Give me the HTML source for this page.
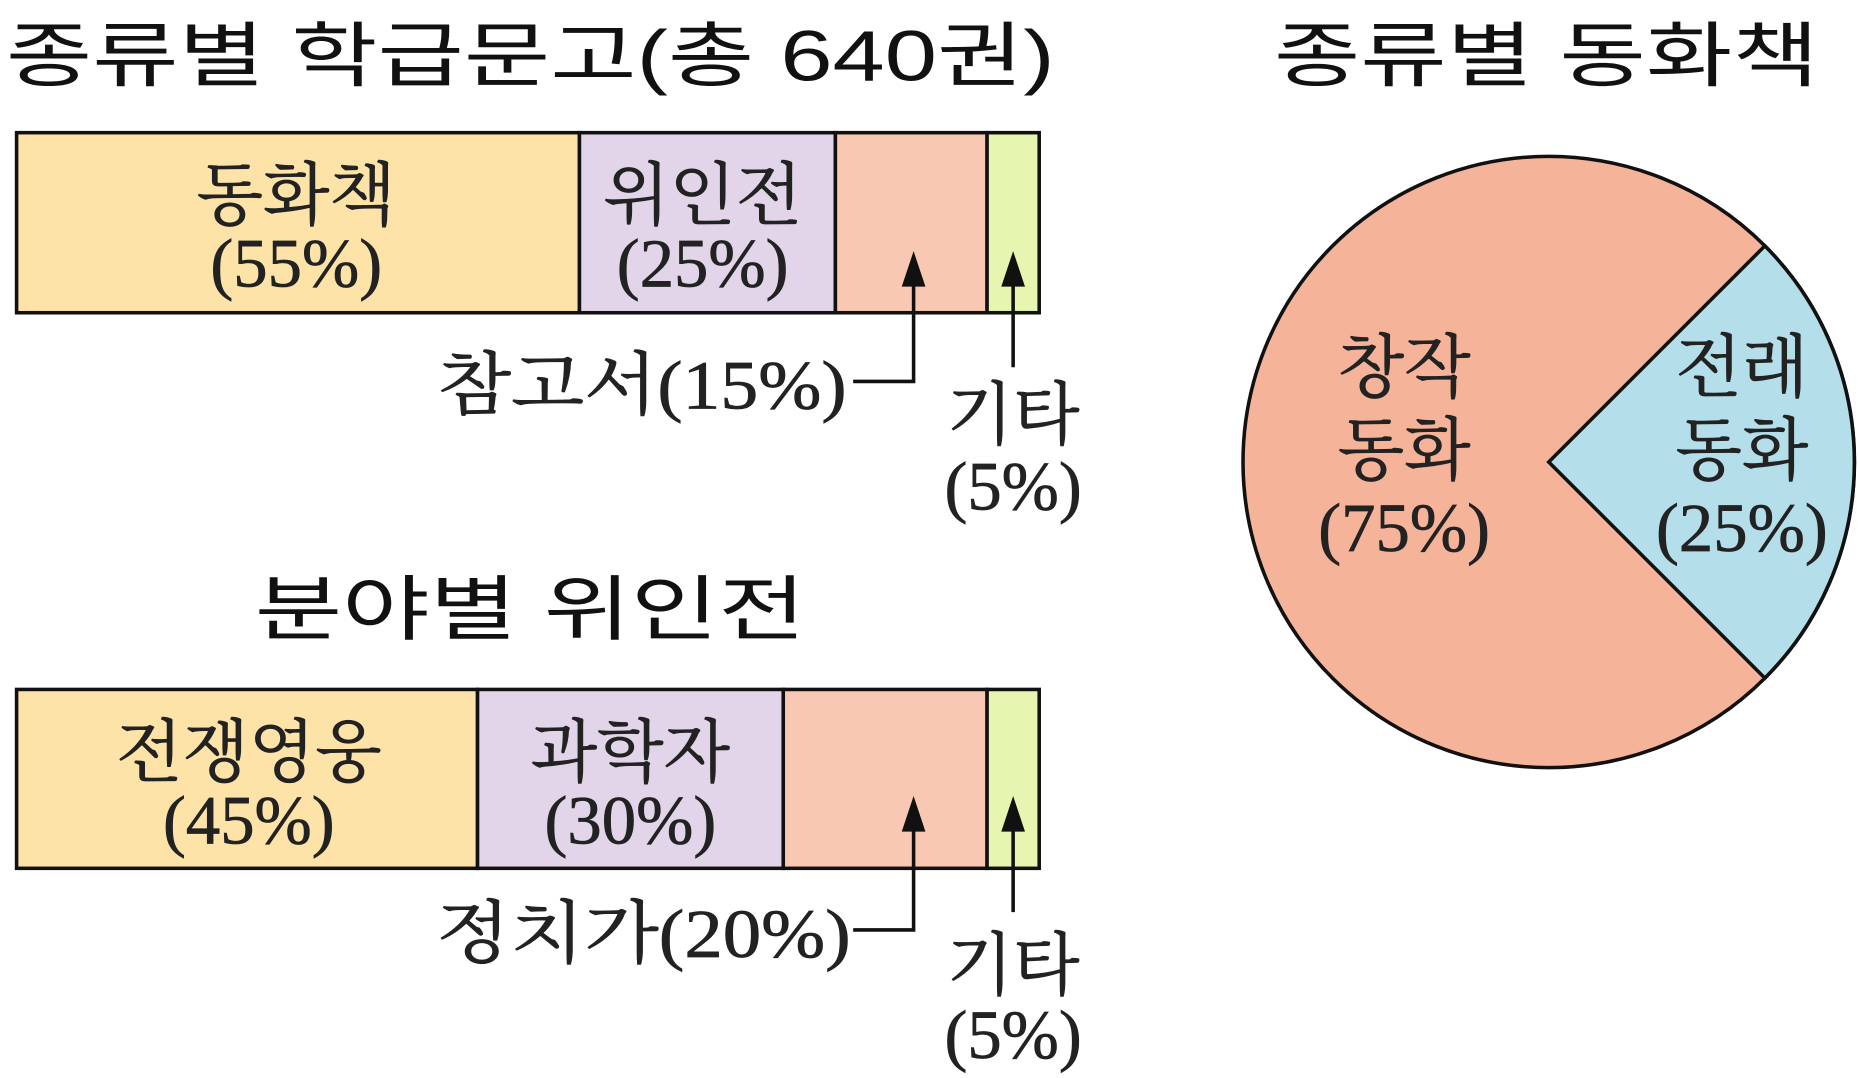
<!DOCTYPE html>
<html><head><meta charset="utf-8"><style>
html,body{margin:0;padding:0;background:#fff;width:1858px;height:1078px;overflow:hidden}
.t{font-family:"Liberation Sans","Noto Sans CJK KR",sans-serif;font-size:60px;fill:#111}
.s{font-family:"Liberation Serif","Noto Serif CJK SC",serif;font-size:58px;fill:#222;text-anchor:middle;stroke:#222;stroke-width:0.6}
</style></head><body>
<svg width="1858" height="1078" viewBox="0 0 1568 910" preserveAspectRatio="none">
<text class="t" x="5" y="68" textLength="885" lengthAdjust="spacingAndGlyphs">종류별 학급문고(총 640권)</text>
<text class="t" x="1075" y="68" textLength="460" lengthAdjust="spacingAndGlyphs">종류별 동화책</text>
<text class="t" x="215" y="535" textLength="465" lengthAdjust="spacingAndGlyphs">분야별 위인전</text>

<g stroke="#111" stroke-width="3">
<rect x="14" y="112" width="475" height="152" fill="#fde3a7"/>
<rect x="489" y="112" width="216" height="152" fill="#e2d5ea"/>
<rect x="705" y="112" width="128" height="152" fill="#f8c8b3"/>
<rect x="833" y="112" width="44" height="152" fill="#e6f5b0"/>
<rect x="14" y="582" width="389" height="151" fill="#fde3a7"/>
<rect x="403" y="582" width="258" height="151" fill="#e2d5ea"/>
<rect x="661" y="582" width="172" height="151" fill="#f8c8b3"/>
<rect x="833" y="582" width="44" height="151" fill="#e6f5b0"/>
<polyline points="720,322 771,322 771,240" fill="none"/>
<line x1="855" y1="310" x2="855" y2="240"/>
<polyline points="720,785 771,785 771,700" fill="none"/>
<line x1="855" y1="770" x2="855" y2="700"/>
</g>
<g fill="#111">
<polygon points="771,212 761,242 781,242"/>
<polygon points="855,212 845,242 865,242"/>
<polygon points="771,672 761,702 781,702"/>
<polygon points="855,672 845,702 865,702"/>
</g>
<text class="s" x="250" y="185">동화책</text><text class="s" x="250" y="242">(55%)</text>
<text class="s" x="593" y="185">위인전</text><text class="s" x="593" y="242">(25%)</text>
<text class="s" x="542" y="345" textLength="345" lengthAdjust="spacingAndGlyphs">참고서(15%)</text>
<text class="s" x="855" y="370">기타</text><text class="s" x="855" y="430">(5%)</text>
<text class="s" x="210" y="655">전쟁영웅</text><text class="s" x="210" y="712">(45%)</text>
<text class="s" x="532" y="655">과학자</text><text class="s" x="532" y="712">(30%)</text>
<text class="s" x="543" y="808" textLength="350" lengthAdjust="spacingAndGlyphs">정치가(20%)</text>
<text class="s" x="855" y="835">기타</text><text class="s" x="855" y="893">(5%)</text>

<circle cx="1307" cy="390" r="258" fill="#f5b49a" stroke="#111" stroke-width="3"/>
<path d="M1307,390 L1489.4,207.6 A258,258 0 0 1 1489.4,572.4 Z" fill="#b4dfea" stroke="#111" stroke-width="3"/>
<text class="s" x="1185" y="330">창작</text><text class="s" x="1185" y="400">동화</text><text class="s" x="1185" y="465">(75%)</text>
<text class="s" x="1470" y="330">전래</text><text class="s" x="1470" y="400">동화</text><text class="s" x="1470" y="465">(25%)</text>
</svg>
</body></html>
